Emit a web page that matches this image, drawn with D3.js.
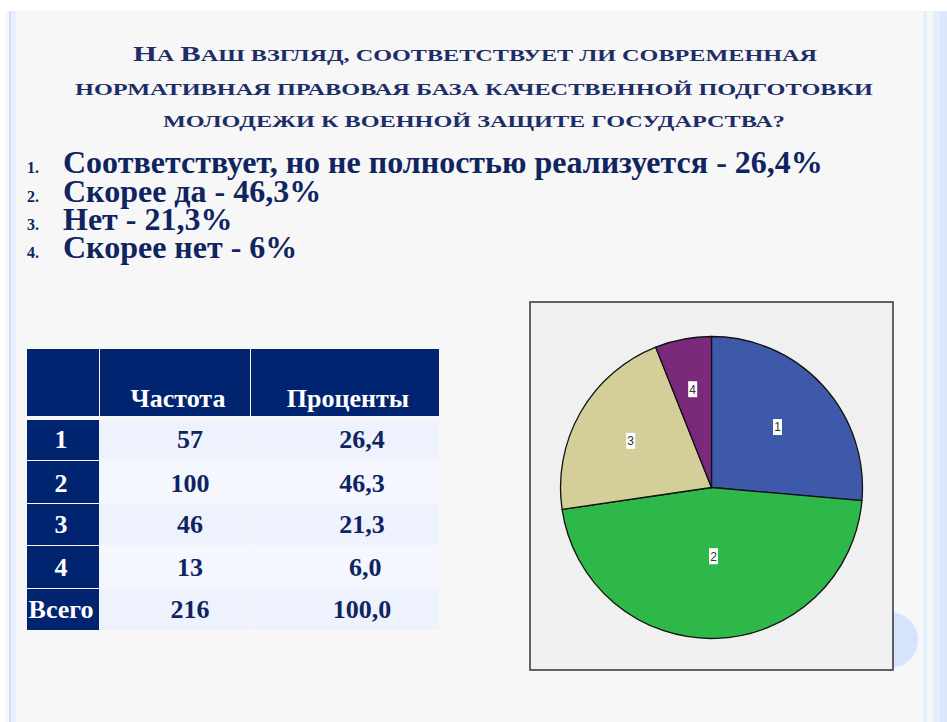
<!DOCTYPE html>
<html>
<head>
<meta charset="utf-8">
<script src="https://cdn.jsdelivr.net/npm/d3@7"></script>
<style>
html,body{margin:0;padding:0;background:#ffffff;}
svg{display:block;}
</style>
</head>
<body>
<svg id="chart" width="947" height="722"></svg>
<script>
// ---- data ----
const titleLines = [
  "На Ваш взгляд, соответствует ли современная",
  "нормативная правовая база качественной подготовки",
  "молодежи к военной защите государства?"
];
const listNumbers = ["1.", "2.", "3.", "4."];
const listItems = [
  "Соответствует, но не полностью реализуется - 26,4%",
  "Скорее да - 46,3%",
  "Нет - 21,3%",
  "Скорее нет - 6%"
];
const tableHeaders = ["", "Частота", "Проценты"];
const rowLabels = ["1", "2", "3", "4", "Всего"];
const frequencies = ["57", "100", "46", "13", "216"];
const percents = ["26,4", "46,3", "21,3", " 6,0", "100,0"];
const pieCategories = ["1", "2", "3", "4"];
const pieValues = [57, 100, 46, 13];
const pieColors = ["#3e59aa", "#2fb84a", "#d4ce99", "#7b2a7b"];

// ---- drawing ----
const svg = d3.select("#chart");
const navy = "#0f2460";
const serif = "'Liberation Serif', 'Times New Roman', serif";

// background
svg.append("rect").attr("x", 5).attr("y", 11).attr("width", 942).attr("height", 711).attr("fill", "#f7f7f7");
const stripes = [
  {x: 9, w: 2.5, c: "#cddffb"}, {x: 11.5, w: 4.5, c: "#e8f0fd"},
  {x: 923, w: 4, c: "#e5eefc"}, {x: 933, w: 7, c: "#e5eefc"}, {x: 940, w: 7, c: "#dce7fb"}
];
svg.selectAll("rect.stripe").data(stripes).enter().append("rect")
  .attr("class", "stripe").attr("x", d => d.x).attr("y", 11)
  .attr("width", d => d.w).attr("height", 711).attr("fill", d => d.c);
// decorative circle
svg.append("circle").attr("cx", 890).attr("cy", 640).attr("r", 28).attr("fill", "#d6e3fc");

// title (manual small caps: real capitals larger, others as smaller capitals)
const titleY = [61, 95, 127];
const titleX = [[133, 817], [75, 873], [163, 785]];
titleLines.forEach((line, i) => {
  const t = svg.append("text")
    .attr("x", titleX[i][0]).attr("y", titleY[i])
    .attr("textLength", titleX[i][1] - titleX[i][0])
    .attr("lengthAdjust", "spacingAndGlyphs")
    .style("font-family", serif).style("font-weight", "bold")
    .attr("fill", "#1d2d66");
  // split into runs of capital / non-capital characters
  const runs = [];
  for (const ch of line) {
    const isCap = ch !== ch.toLowerCase();
    if (runs.length && runs[runs.length - 1].cap === isCap) runs[runs.length - 1].s += ch;
    else runs.push({cap: isCap, s: ch});
  }
  t.selectAll("tspan").data(runs).enter().append("tspan")
    .style("font-size", d => d.cap ? "21.5px" : "17px")
    .text(d => d.s.toUpperCase());
});

// list
const listY = [173, 202, 230, 258];
const lg = svg.append("g");
lg.selectAll("text.num").data(listNumbers).enter().append("text")
  .attr("x", 27).attr("y", (d, i) => listY[i])
  .style("font-family", serif).style("font-weight", "bold")
  .style("font-size", "16px").attr("fill", navy).text(d => d);
lg.selectAll("text.item").data(listItems).enter().append("text")
  .attr("x", 63).attr("y", (d, i) => listY[i])
  .style("font-family", serif).style("font-weight", "bold")
  .style("font-size", "32px").attr("fill", navy).text(d => d);

// table
const colX = [27, 100, 251];
const colW = [72, 150, 188];
const rowY = [420, 461, 504, 546, 589];
const rowH = [40, 42, 41, 42, 41];
const headerY = 349, headerH = 67;
const darkBg = "#00246f";
const lightBg = ["#edf2fc", "#f4f7fe", "#edf2fc", "#f4f7fe", "#edf2fc"];
const tg = svg.append("g").style("font-family", serif).style("font-weight", "bold").style("font-size", "26px");

tableHeaders.forEach((h, c) => {
  tg.append("rect").attr("x", colX[c]).attr("y", headerY).attr("width", colW[c]).attr("height", headerH).attr("fill", darkBg);
});
const headerCx = [63, 178, 348];
tg.selectAll("text.hdr").data(tableHeaders).enter().append("text")
  .attr("x", (d, i) => headerCx[i]).attr("y", 407).attr("text-anchor", "middle")
  .attr("fill", "#ffffff").text(d => d);

const rows = rowLabels.map((l, i) => ({label: l, freq: frequencies[i], pct: percents[i], i}));
const rg = tg.selectAll("g.row").data(rows).enter().append("g");
rg.append("rect").attr("x", colX[0]).attr("y", d => rowY[d.i]).attr("width", colW[0]).attr("height", d => rowH[d.i]).attr("fill", darkBg);
rg.append("rect").attr("x", colX[1]).attr("y", d => rowY[d.i]).attr("width", colW[1]).attr("height", d => rowH[d.i]).attr("fill", d => lightBg[d.i]);
rg.append("rect").attr("x", colX[2]).attr("y", d => rowY[d.i]).attr("width", colW[2]).attr("height", d => rowH[d.i]).attr("fill", d => lightBg[d.i]);
const baseY = [448, 492, 533, 576, 618];
rg.append("text").attr("x", 61).attr("y", d => baseY[d.i]).attr("text-anchor", "middle").attr("fill", "#ffffff").text(d => d.label);
rg.append("text").attr("x", 190).attr("y", d => baseY[d.i]).attr("text-anchor", "middle").attr("fill", navy).text(d => d.freq);
rg.append("text").attr("x", 362).attr("y", d => baseY[d.i]).attr("text-anchor", "middle").attr("fill", navy)
  .style("white-space", "pre").text(d => d.pct);

// pie box
svg.append("rect").attr("x", 530).attr("y", 302).attr("width", 363).attr("height", 368)
  .attr("fill", "#f0f0f0").attr("stroke", "#333333").attr("stroke-width", 1.5);

const cx = 711.5, cy = 487.5, R = 151;
const pie = d3.pie().sort(null).value(d => d.v).startAngle(0).endAngle(2 * Math.PI);
const arcs = pie(pieValues.map((v, i) => ({v, cat: pieCategories[i], col: pieColors[i]})));
const arc = d3.arc().innerRadius(0).outerRadius(R);
const pg = svg.append("g").attr("transform", `translate(${cx},${cy})`);
pg.selectAll("path").data(arcs).enter().append("path")
  .attr("d", arc).attr("fill", d => d.data.col).attr("stroke", "#111").attr("stroke-width", 1.3)
  .attr("stroke-linejoin", "round");

// labels at area centroid
const lab = pg.selectAll("g.lab").data(arcs).enter().append("g").attr("transform", d => {
  const a = d.endAngle - d.startAngle;
  const m = (d.startAngle + d.endAngle) / 2;
  const dist = 4 * R * Math.sin(a / 2) / (3 * a);
  return `translate(${dist * Math.sin(m)},${-dist * Math.cos(m)})`;
});
lab.append("rect").attr("x", -4.5).attr("y", -8).attr("width", 9).attr("height", 16).attr("fill", "#ffffff");
lab.append("text").attr("text-anchor", "middle").attr("dy", "0.36em")
  .style("font-family", "'Liberation Sans', Arial, sans-serif").style("font-size", "12px")
  .attr("fill", "#333333").text(d => d.data.cat);
</script>
</body>
</html>
